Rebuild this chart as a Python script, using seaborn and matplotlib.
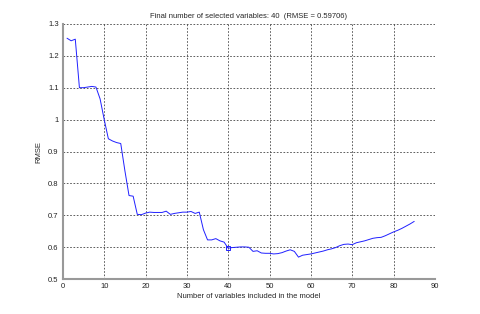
import numpy as np
import pandas as pd
import matplotlib
matplotlib.use("Agg")
from matplotlib import pyplot as plt
import seaborn as sns

n_vars = list(range(1, 86))
rmse = [1.255, 1.247, 1.252, 1.100, 1.100, 1.102, 1.104, 1.102, 1.065, 1.000,
        0.940, 0.933, 0.928, 0.925, 0.840, 0.762, 0.760, 0.703, 0.702, 0.707,
        0.710, 0.709, 0.709, 0.709, 0.713, 0.703, 0.706, 0.708, 0.710, 0.710,
        0.712, 0.706, 0.710, 0.655, 0.623, 0.623, 0.627, 0.620, 0.616, 0.597,
        0.599, 0.600, 0.601, 0.601, 0.600, 0.587, 0.589, 0.582, 0.581, 0.581,
        0.579, 0.580, 0.583, 0.588, 0.592, 0.587, 0.569, 0.575, 0.577, 0.579,
        0.582, 0.585, 0.588, 0.592, 0.595, 0.599, 0.605, 0.609, 0.610, 0.608,
        0.614, 0.617, 0.620, 0.624, 0.628, 0.630, 0.631, 0.636, 0.642, 0.648,
        0.653, 0.659, 0.666, 0.673, 0.681]
best_n = 40
best_rmse = 0.59706

df = pd.DataFrame({"n": n_vars, "rmse": rmse})

sns.set_style("white")
plt.rcParams["font.family"] = ["Liberation Sans", "DejaVu Sans"]

fig = plt.figure(figsize=(4.8, 3.14), dpi=100)
ax = fig.add_axes([0.131, 0.111, 0.775, 0.813])

ax.grid(True, linestyle=(0, (2, 2)), color="#444444", linewidth=0.6, zorder=0)
ax.set_axisbelow(True)
sns.lineplot(data=df, x="n", y="rmse", color="#2020ff", linewidth=0.7, ax=ax)
ax.plot([best_n], [df.loc[df["n"] == best_n, "rmse"].iloc[0]], marker="s",
        markersize=3.5, markerfacecolor="none", markeredgecolor="#2020ff",
        markeredgewidth=0.7, linestyle="none", zorder=5)

ax.set_xlim(0, 90)
ax.set_ylim(0.5, 1.3)
ax.set_xticks(range(0, 91, 10))
ax.set_yticks(np.arange(0.5, 1.31, 0.1))
ax.set_yticklabels(["0.5", "0.6", "0.7", "0.8", "0.9", "1", "1.1", "1.2", "1.3"])
for s in ["top", "right"]:
    ax.spines[s].set_visible(False)
for s in ["left", "bottom"]:
    ax.spines[s].set_color("#999999")
    ax.spines[s].set_linewidth(1.5)
ax.tick_params(labelsize=5.5, length=0, pad=3, colors="#222222")

ax.set_xlabel("Number of variables included in the model", fontsize=5.5, labelpad=2)
ax.set_ylabel("RMSE", fontsize=5.5, labelpad=4)
ax.set_title(f"Final number of selected variables: {best_n}  (RMSE = {best_rmse})",
             fontsize=5.5, pad=4)

fig.savefig("out.png", dpi=100)
